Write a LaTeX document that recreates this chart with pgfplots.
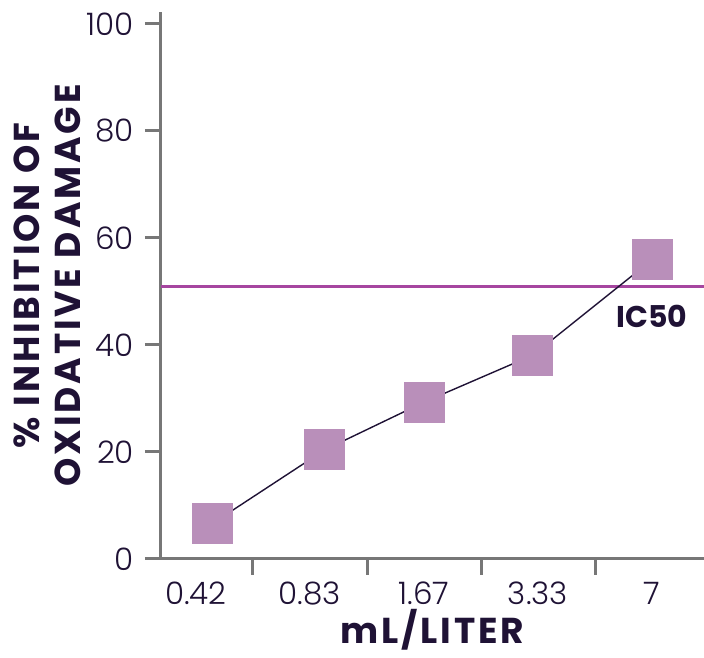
\documentclass[border=0pt]{standalone}
\usepackage{fontspec}
\setmainfont{Poppins}
\newfontfamily\labelfont[LetterSpace=8]{Poppins}
\newfontfamily\lightfont{Poppins Light}
\usepackage{pgfplots}
\pgfplotsset{compat=1.18}
\definecolor{ink}{HTML}{1F1235}
\definecolor{axisgrey}{HTML}{777777}
\definecolor{sq}{HTML}{B98FBA}
\definecolor{icline}{HTML}{A646A0}

\begin{document}
\begin{tikzpicture}
\begin{axis}[
    scale only axis,
    width=271.5pt,
    height=273.5pt,
    xmin=-0.307, xmax=4.456,
    ymin=0, ymax=102.2,
    axis x line*=bottom,
    axis y line*=left,
    axis line style={axisgrey, line width=1.5pt},
    x axis line style={shorten <=-4pt},
    xtick={0,1,2,3,4},
    xticklabels={0.42,0.83,1.67,3.33,7},
    minor xtick={0.5,1.5,2.5,3.5},
    ytick={0,20,40,60,80,100},
    tick align=outside,
    major x tick style={draw=none},
    minor tick length=8pt,
    major tick length=8pt,
    tick style={axisgrey, line width=1.5pt},
    /pgf/number format/assume math mode=true,
    tick label style={font=\lightfont\fontsize{15.5}{18}\selectfont, text=ink},
    xticklabel style={yshift=0pt},
    yticklabel style={xshift=-2pt},
    xlabel={\labelfont\bfseries\fontsize{18}{22}\selectfont mL/LITER},
    xlabel style={text=ink, inner sep=0pt, yshift=1.5pt},
    ylabel={\labelfont\bfseries\fontsize{18}{20}\selectfont
      \begin{tabular}{c}\% INHIBITION OF\\[0.5pt] OXIDATIVE DAMAGE\end{tabular}},
    ylabel style={text=ink, yshift=-10pt},
    clip=false,
]
\addplot[icline, line width=1.5pt, forget plot] coordinates {(-0.307,50.9) (4.456,50.9)};
\addplot[ink, line width=0.7pt, mark=square*, mark size=10pt,
    mark options={draw=sq, fill=sq, line width=0pt}] coordinates {
    (0.149,6.7) (1.13,20.4) (2.0,29.3) (2.956,38.1) (4.0,55.9)
};
\node[text=ink, font=\bfseries\fontsize{15}{18}\selectfont] at (axis cs:4,45.4) {IC50};
\end{axis}
\pgfresetboundingbox
\path ([shift={(-80.5pt,-49.5pt)}]current axis.south west) rectangle ([shift={(0pt,6pt)}]current axis.north east);
\end{tikzpicture}
\end{document}
